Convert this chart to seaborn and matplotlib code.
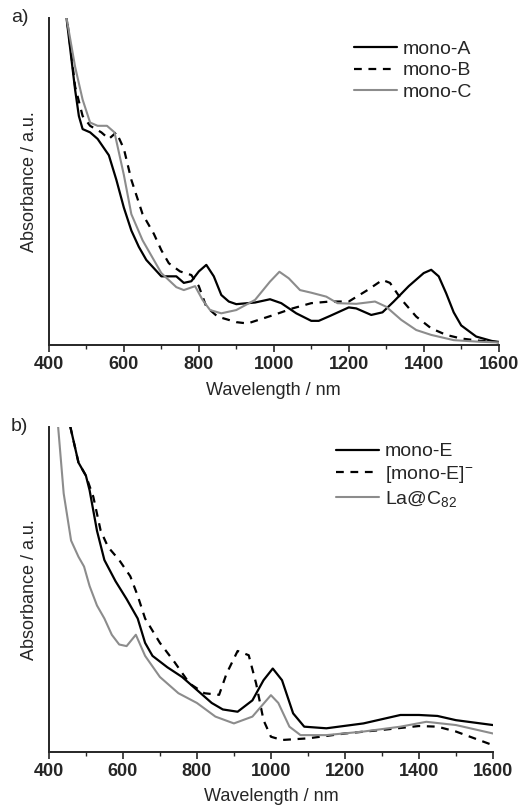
import matplotlib
matplotlib.use("Agg")
import matplotlib.pyplot as plt
import seaborn as sns
import pandas as pd
from matplotlib.ticker import MultipleLocator

# panel a) spectra (absorbance in arbitrary units, 0 = baseline, 1 = axis top)
wl_a = [447, 470, 480, 490, 510, 530, 560, 580, 600, 620, 640, 660, 700, 740, 760, 780,
        800, 820, 840, 860, 880, 900, 950, 990, 1020, 1060, 1100, 1120, 1150, 1200, 1220,
        1260, 1290, 1320, 1360, 1400, 1420, 1440, 1460, 1480, 1500, 1540, 1580, 1600]
mono_a = [1.0, 0.78, 0.70, 0.66, 0.65, 0.63, 0.58, 0.505, 0.42, 0.35, 0.30, 0.26, 0.21, 0.21,
          0.19, 0.195, 0.225, 0.245, 0.21, 0.153, 0.133, 0.125, 0.13, 0.14, 0.128, 0.097,
          0.074, 0.074, 0.089, 0.115, 0.112, 0.092, 0.10, 0.133, 0.18, 0.22, 0.23, 0.21,
          0.158, 0.10, 0.06, 0.026, 0.013, 0.008]

wl_b = [450, 470, 490, 510, 540, 560, 580, 600, 620, 650, 680, 700, 720, 750, 780, 800, 820,
        850, 900, 930, 1000, 1050, 1100, 1150, 1200, 1250, 1290, 1310, 1340, 1380, 1420,
        1460, 1500, 1550, 1600]
mono_b = [0.98, 0.79, 0.70, 0.67, 0.65, 0.63, 0.65, 0.60, 0.505, 0.40, 0.34, 0.29, 0.25,
          0.225, 0.214, 0.18, 0.117, 0.087, 0.07, 0.066, 0.092, 0.112, 0.128, 0.133, 0.133,
          0.168, 0.199, 0.19, 0.14, 0.087, 0.051, 0.031, 0.02, 0.013, 0.01]

wl_c = [447, 470, 490, 510, 530, 555, 575, 600, 620, 650, 700, 740, 760, 790, 810, 830, 860,
        900, 950, 990, 1015, 1040, 1070, 1100, 1140, 1170, 1220, 1270, 1300, 1340, 1380,
        1420, 1480, 1550, 1600]
mono_c = [1.0, 0.85, 0.75, 0.68, 0.67, 0.67, 0.65, 0.52, 0.40, 0.32, 0.22, 0.177, 0.168,
          0.18, 0.138, 0.107, 0.097, 0.107, 0.138, 0.194, 0.224, 0.204, 0.168, 0.16, 0.148,
          0.128, 0.126, 0.133, 0.117, 0.077, 0.046, 0.031, 0.015, 0.01, 0.008]

# panel b) spectra
wl_e = [458, 480, 500, 510, 530, 550, 580, 610, 640, 660, 680, 720, 760, 800, 840, 870, 910,
        950, 980, 1005, 1030, 1060, 1090, 1150, 1250, 1350, 1400, 1450, 1500, 1600]
mono_e = [1.0, 0.89, 0.85, 0.805, 0.68, 0.59, 0.525, 0.47, 0.41, 0.335, 0.295, 0.26, 0.23,
          0.19, 0.15, 0.13, 0.123, 0.158, 0.22, 0.256, 0.22, 0.118, 0.077, 0.072, 0.087,
          0.113, 0.113, 0.11, 0.097, 0.082]

wl_en = [458, 480, 500, 520, 540, 560, 590, 620, 640, 660, 700, 740, 780, 820, 860, 880, 910,
         940, 960, 980, 1000, 1030, 1100, 1200, 1300, 1400, 1450, 1500, 1550, 1600]
mono_en = [1.0, 0.89, 0.85, 0.785, 0.68, 0.63, 0.59, 0.54, 0.48, 0.41, 0.335, 0.275, 0.21,
           0.18, 0.175, 0.24, 0.31, 0.297, 0.21, 0.097, 0.046, 0.036, 0.041, 0.056, 0.067,
           0.079, 0.077, 0.062, 0.041, 0.02]

wl_la = [425, 440, 460, 480, 495, 510, 530, 550, 570, 590, 610, 635, 660, 700, 750, 800, 850,
         900, 950, 1000, 1020, 1050, 1080, 1150, 1250, 1350, 1420, 1500, 1600]
la_c82 = [1.0, 0.795, 0.65, 0.60, 0.57, 0.51, 0.45, 0.41, 0.36, 0.33, 0.325, 0.36, 0.295,
          0.23, 0.18, 0.15, 0.108, 0.087, 0.108, 0.174, 0.15, 0.077, 0.051, 0.051, 0.062,
          0.077, 0.092, 0.082, 0.056]

sns.set_style("ticks")
plt.rcParams["font.family"] = ["Liberation Sans", "DejaVu Sans"]
plt.rcParams["mathtext.default"] = "regular"

GRAY = "#8c8c8c"
DASH = (0, (3.5, 3))

fig = plt.figure(figsize=(5.2, 8.1), dpi=100)
ax1 = fig.add_axes([0.094, 0.574, 0.865, 0.404])
ax2 = fig.add_axes([0.094, 0.072, 0.854, 0.401])

panels = [
    (ax1, "a)", [(wl_a, mono_a, "mono-A", "black", "-", 1.6),
                 (wl_b, mono_b, "mono-B", "black", DASH, 1.6),
                 (wl_c, mono_c, "mono-C", GRAY, "-", 1.5)], (0.958, 0.955)),
    (ax2, "b)", [(wl_e, mono_e, "mono-E", "black", "-", 1.6),
                 (wl_en, mono_en, "[mono-E]$^{-}$", "black", DASH, 1.6),
                 (wl_la, la_c82, "La@C$_{82}$", GRAY, "-", 1.5)], (0.974, 0.975)),
]

for ax, tag, series, anchor in panels:
    for x, y, name, col, ls, lw in series:
        df = pd.DataFrame({"Wavelength": x, "Absorbance": y})
        sns.lineplot(data=df, x="Wavelength", y="Absorbance", ax=ax, color=col,
                     linestyle=ls, linewidth=lw, label=name)
    ax.set_xlim(400, 1600)
    ax.set_ylim(0, 1)
    ax.xaxis.set_major_locator(MultipleLocator(200))
    ax.xaxis.set_minor_locator(MultipleLocator(100))
    ax.tick_params(axis="x", which="major", length=5, width=1.2, labelsize=13, pad=3)
    ax.tick_params(axis="x", which="minor", length=3, width=1.0)
    for lab in ax.get_xticklabels():
        lab.set_fontweight("bold")
    ax.set_yticks([])
    sns.despine(ax=ax)
    for s in ("left", "bottom"):
        ax.spines[s].set_linewidth(1.4)
    ax.set_xlabel("Wavelength / nm", fontsize=13, labelpad=6)
    ax.set_ylabel("Absorbance / a.u.", fontsize=13, labelpad=8)
    ax.legend(loc="upper right", frameon=False, fontsize=14, handlelength=2.2,
              handletextpad=0.3, labelspacing=0.2, borderaxespad=0.0,
              bbox_to_anchor=anchor)
    ax.text(-0.085, 1.0, tag, transform=ax.transAxes, fontsize=14, ha="left", va="center")

fig.savefig("out.png", dpi=100)
